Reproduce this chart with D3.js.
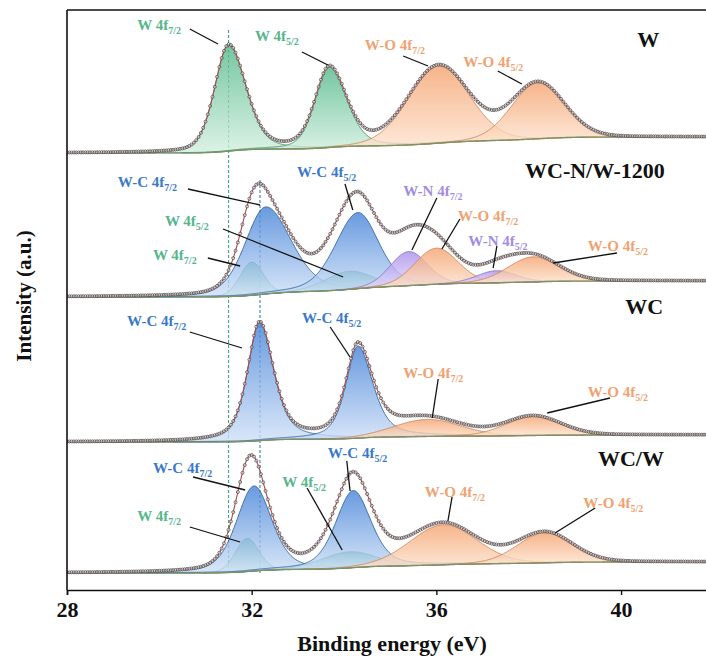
<!DOCTYPE html>
<html><head><meta charset="utf-8">
<script src="https://cdn.jsdelivr.net/npm/d3@7"></script>
<style>
html,body{margin:0;padding:0;background:#fff;}
svg{display:block;font-family:"Liberation Serif","Times New Roman",serif;}
</style></head><body>
<svg id="chart" width="706" height="657"></svg>
<script>
// Binding-energy axis ticks (eV)
const xTicks = [28, 32, 36, 40];
// Samples, stacked from top to bottom
const samples = ["W", "WC-N/W-1200", "WC", "WC/W"];
// Background level on the low-BE side and Shirley step height, per sample (a.u.)
const bgLow = [437, 293, 148, 17];
const bgStep = [16, 16, 7, 11];

// Fitted components: [species, centre (eV), height (a.u.), FWHM low-BE side, FWHM high-BE side, Lorentzian fraction]
const fitW = [
  ["W",   31.50, 106, 0.72, 0.88, 0.30],
  ["W",   33.68,  80, 0.72, 0.88, 0.30],
  ["W-O", 36.05,  77, 1.55, 1.55, 0.08],
  ["W-O", 38.20,  56, 1.35, 1.35, 0.08]
];
const fitWCN = [
  ["W",   32.00,  33, 0.60, 0.60, 0.10],
  ["W-C", 32.30,  87, 1.05, 1.30, 0.30],
  ["W",   34.10,  18, 1.20, 1.20, 0.10],
  ["W-C", 34.30,  76, 1.15, 1.05, 0.30],
  ["W-N", 35.40,  34, 0.95, 0.95, 0.10],
  ["W-O", 36.00,  36, 1.10, 1.10, 0.10],
  ["W-N", 37.30,  12, 1.00, 1.00, 0.10],
  ["W-O", 38.10,  25, 1.30, 1.30, 0.10]
];
const fitWC = [
  ["W-C", 32.17, 118, 0.62, 0.72, 0.55],
  ["W-C", 34.30,  92, 0.62, 0.76, 0.55],
  ["W-O", 35.80,  17, 1.70, 1.70, 0.10],
  ["W-O", 38.10,  19, 1.40, 1.40, 0.10]
];
const fitWCW = [
  ["W",   31.90,  33, 0.60, 0.60, 0.10],
  ["W-C", 32.05,  85, 0.90, 0.90, 0.40],
  ["W",   34.10,  16, 1.40, 1.40, 0.10],
  ["W-C", 34.20,  77, 0.90, 0.90, 0.40],
  ["W-O", 36.15,  40, 1.70, 1.70, 0.10],
  ["W-O", 38.35,  30, 1.40, 1.40, 0.10]
];
const fits = [fitW, fitWCN, fitWC, fitWCW];

// Vertical guide lines at the metallic W and W-C 4f7/2 positions (eV)
const guideEnergy = [31.50, 32.18];
const guideTop = [560, 410];
const guideBottom = [15, 15];

// Peak annotations: [species, text, subscript, text x (eV), text y (a.u.), arrow from (eV, a.u.), arrow to (eV, a.u.)]
const notes = [
  ["W",   "W 4f",   "7/2", 29.52, 560, 30.66, 561, 31.27, 546],
  ["W",   "W 4f",   "5/2", 32.07, 549, 33.09, 538, 33.65, 525],
  ["W-O", "W-O 4f", "7/2", 34.45, 540, 35.28, 534, 35.82, 524],
  ["W-O", "W-O 4f", "5/2", 36.58, 523, 37.33, 519, 37.85, 506],
  ["W-C", "W-C 4f", "7/2", 29.10, 403, 30.62, 401, 32.18, 385],
  ["W",   "W 4f",   "5/2", 30.12, 364, 31.38, 361, 33.98, 313],
  ["W",   "W 4f",   "7/2", 29.86, 330, 31.05, 332, 31.75, 324],
  ["W-C", "W-C 4f", "5/2", 32.98, 413, 34.02, 406, 34.19, 380],
  ["W-N", "W-N 4f", "7/2", 35.28, 394, 36.01, 392, 35.47, 340],
  ["W-O", "W-O 4f", "7/2", 36.47, 369, 36.51, 371, 36.12, 341],
  ["W-N", "W-N 4f", "5/2", 36.69, 344, 37.31, 344, 37.23, 322],
  ["W-O", "W-O 4f", "5/2", 39.28, 339, 39.91, 337, 38.53, 327],
  ["W-C", "W-C 4f", "7/2", 29.30, 264, 30.66, 258, 31.79, 242],
  ["W-C", "W-C 4f", "5/2", 33.09, 267, 33.70, 263, 34.13, 233],
  ["W-O", "W-O 4f", "7/2", 35.28, 212, 36.04, 211, 35.91, 172],
  ["W-O", "W-O 4f", "5/2", 39.28, 193, 39.76, 192, 38.40, 177],
  ["W-C", "W-C 4f", "7/2", 29.86, 117, 30.73, 113, 31.86, 100],
  ["W",   "W 4f",   "5/2", 32.66, 103, 33.20, 102, 33.96,  40],
  ["W",   "W 4f",   "7/2", 29.52,  69, 30.66,  63, 31.75,  48],
  ["W-C", "W-C 4f", "5/2", 33.65, 132, 34.06, 129, 34.13,  99],
  ["W-O", "W-O 4f", "7/2", 35.75,  93, 36.34,  93, 36.25,  69],
  ["W-O", "W-O 4f", "5/2", 39.18,  82, 39.44,  82, 38.57,  57]
];
// Sample name positions: [text x (eV), text y (a.u.)]
const sampleLabelPos = [[40.35, 543], [37.92, 412], [40.09, 276], [39.50, 124]];

// Species colours: [gradient top, gradient bottom, outline, label]
const speciesColor = {
  "W":   ["#4fb687", "#d2efdf", "#3f8f6c", "#56b68c"],
  "W-C": ["#3f7fd6", "#cfe0f7", "#2f5f9f", "#3b79c9"],
  "W-O": ["#f4a06a", "#fde3cf", "#cf7f55", "#f0a272"],
  "W-N": ["#a68be8", "#e7defc", "#8a70c8", "#a08ce4"]
};

const svg = d3.select("#chart");
const W = 706, H = 657;
const x = d3.scaleLinear().domain([28, 42]).range([67, 713.4]);
const y = d3.scaleLinear().domain([0, 580]).range([590, 10]);

const defs = svg.append("defs");
Object.entries(speciesColor).forEach(([k, c], i) => {
  const g = defs.append("linearGradient").attr("id", "grad" + i)
    .attr("x1", 0).attr("y1", 0).attr("x2", 0).attr("y2", 1);
  g.append("stop").attr("offset", "0%").attr("stop-color", c[0]);
  g.append("stop").attr("offset", "100%").attr("stop-color", c[1]);
  c.grad = "url(#grad" + i + ")";
});
defs.append("clipPath").attr("id", "plotClip").append("rect")
  .attr("x", 67).attr("y", 10).attr("width", W - 67).attr("height", 580);

function pv(E, c, h, wl, wr, eta) {
  const w = E < c ? wl : wr;
  const t = (E - c) / w;
  return h * ((1 - eta) * Math.exp(-4 * Math.LN2 * t * t) + eta / (1 + 4 * t * t));
}

const dE = 0.01;
const grid = d3.range(0, 1401).map(i => 28 + i * dE);
const plot = svg.append("g").attr("clip-path", "url(#plotClip)");

// guide lines sit behind the spectra
guideEnergy.forEach((e, i) => {
  plot.append("line")
    .attr("x1", x(e)).attr("x2", x(e))
    .attr("y1", y(guideTop[i])).attr("y2", y(guideBottom[i]))
    .attr("stroke", i === 0 ? "#2f9a7c" : "#2f6fb0")
    .attr("stroke-width", 1).attr("stroke-dasharray", "3,2");
});

fits.forEach((fit, p) => {
  const comps = fit.map(f => grid.map(E => pv(E, f[1], f[2], f[3], f[4], f[5])));
  const total = grid.map((_, i) => d3.sum(comps, c => c[i]));
  // Shirley-type background: rises with the peak area accumulated from the low-BE side
  const cum = [0];
  for (let i = 1; i < grid.length; i++) cum.push(cum[i - 1] + 0.5 * (total[i] + total[i - 1]) * dE);
  const area = cum[cum.length - 1];
  const bg = cum.map(a => bgLow[p] + bgStep[p] * a / area);
  const g = plot.append("g");

  fit.forEach((f, k) => {
    const col = speciesColor[f[0]];
    const pts = grid.map((E, i) => [E, bg[i], bg[i] + comps[k][i]]).filter(d => d[2] - d[1] > 0.3);
    g.append("path").datum(pts)
      .attr("d", d3.area().x(d => x(d[0])).y0(d => y(d[1])).y1(d => y(d[2])))
      .attr("fill", col.grad).attr("fill-opacity", 0.78)
      .attr("stroke", col[2]).attr("stroke-width", 1).attr("stroke-opacity", 0.9);
  });

  g.append("path").datum(grid.map((E, i) => [E, bg[i]]))
    .attr("d", d3.line().x(d => x(d[0])).y(d => y(d[1])))
    .attr("fill", "none").attr("stroke", "#7d9363").attr("stroke-width", 1.4);

  const env = grid.map((E, i) => [E, bg[i] + total[i]]);
  g.append("path").datum(env)
    .attr("d", d3.line().x(d => x(d[0])).y(d => y(d[1])))
    .attr("fill", "none").attr("stroke", "#b04848").attr("stroke-width", 1.1);

  const dots = env.filter((d, i) => i % 5 === 0);
  g.selectAll("circle.pt").data(dots).enter().append("circle")
    .attr("cx", d => x(d[0])).attr("cy", d => y(d[1])).attr("r", 1.5)
    .attr("fill", "#fff").attr("fill-opacity", 0.5)
    .attr("stroke", "#4a4a4a").attr("stroke-width", 0.75);
});

// frame
svg.append("line").attr("x1", 67).attr("x2", 67).attr("y1", 10).attr("y2", 590)
  .attr("stroke", "#111").attr("stroke-width", 1.6);
svg.append("line").attr("x1", 67).attr("x2", W).attr("y1", 10).attr("y2", 10)
  .attr("stroke", "#111").attr("stroke-width", 1.6);

const ax = svg.append("g").attr("transform", "translate(0,590)")
  .call(d3.axisBottom(x).tickValues(xTicks).tickSize(5).tickPadding(6).tickFormat(d3.format("d")));
ax.select(".domain").attr("stroke", "#111").attr("stroke-width", 1.6);
ax.selectAll(".tick line").attr("stroke", "#111").attr("stroke-width", 1.4);
ax.selectAll(".tick text").attr("fill", "#111")
  .style("font-family", "'Liberation Serif',serif").style("font-size", "22px").style("font-weight", "bold");

svg.append("text").attr("x", 392).attr("y", 651).attr("text-anchor", "middle")
  .style("font-size", "22px").style("font-weight", "bold").attr("fill", "#111")
  .text("Binding energy (eV)");
svg.append("text").attr("transform", "translate(31,296) rotate(-90)").attr("text-anchor", "middle")
  .style("font-size", "21px").style("font-weight", "bold").attr("fill", "#111")
  .text("Intensity (a.u.)");

// sample names
samples.forEach((s, i) => {
  svg.append("text").attr("x", x(sampleLabelPos[i][0])).attr("y", y(sampleLabelPos[i][1]))
    .style("font-size", "22px").style("font-weight", "bold").attr("fill", "#111").text(s);
});

// peak annotations
notes.forEach(n => {
  const col = speciesColor[n[0]];
  svg.append("line")
    .attr("x1", x(n[5])).attr("y1", y(n[6])).attr("x2", x(n[7])).attr("y2", y(n[8]))
    .attr("stroke", "#111").attr("stroke-width", 1.3);
  const t = svg.append("text").attr("x", x(n[3])).attr("y", y(n[4]))
    .attr("fill", col[3]).style("font-size", "15px").style("font-weight", "bold");
  t.append("tspan").text(n[1]);
  t.append("tspan").attr("dy", 4).style("font-size", "10px").text(n[2]);
});
</script>
</body></html>
